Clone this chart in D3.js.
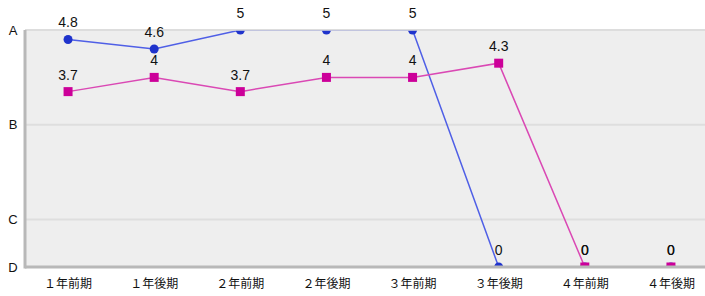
<!DOCTYPE html>
<html>
<head>
<meta charset="utf-8">
<script src="https://cdn.jsdelivr.net/npm/d3@7"></script>
<style>
  body { margin: 0; background: #fff; }
  svg text { font-family: "Liberation Sans", Arial, sans-serif; fill: #111; }
  svg text.xlab { font-family: "Noto Sans CJK JP", "Noto Sans", sans-serif; }
</style>
</head>
<body>
<svg id="chart" width="705" height="296"></svg>
<script>
// categories and values
const terms = ["１年前期", "１年後期", "２年前期", "２年後期", "３年前期", "３年後期", "４年前期", "４年後期"];
const seriesA = [4.8, 4.6, 5, 5, 5, 0, 0, 0];
const seriesB = [3.7, 4, 3.7, 4, 4, 4.3, 0, 0];
const gradeTicks = [5, 3, 1, 0];
const gradeLabels = ["A", "B", "C", "D"];

const svg = d3.select("#chart"),
      margin = { top: 30, right: -9, bottom: 29, left: 25 },
      width = 705 - margin.left - margin.right,
      height = 296 - margin.top - margin.bottom;

const x = d3.scalePoint()
    .domain(terms)
    .range([0, width])
    .padding(0.5);

const y = d3.scaleLinear()
    .domain([0, 5])
    .range([height, 0]);

const chart = svg.append("g")
    .attr("transform", `translate(${margin.left},${margin.top})`);

svg.append("defs").append("clipPath")
    .attr("id", "plot-clip")
  .append("rect")
    .attr("width", width)
    .attr("height", height);

// plot background
chart.append("rect")
    .attr("width", width)
    .attr("height", height)
    .attr("fill", "#eeeeee");

// grid lines
chart.selectAll(".grid")
    .data(gradeTicks.filter(d => d > 0))
    .enter()
    .append("line")
    .attr("x1", 0)
    .attr("x2", width)
    .attr("y1", d => y(d))
    .attr("y2", d => y(d))
    .attr("stroke", "#dedede")
    .attr("stroke-width", 2);

// y labels
chart.selectAll(".ylab")
    .data(gradeTicks)
    .enter()
    .append("text")
    .attr("x", -12)
    .attr("y", d => y(d))
    .attr("dy", "0.35em")
    .attr("text-anchor", "middle")
    .style("font-size", "13px")
    .text((d, i) => gradeLabels[i]);

// x labels
chart.selectAll(".xlab")
    .data(terms)
    .enter()
    .append("text")
    .attr("class", "xlab")
    .attr("x", d => x(d))
    .attr("y", height + 21)
    .attr("text-anchor", "middle")
    .style("font-size", "12px")
    .text(d => d);

const series = [
    { values: seriesA, line: "#4f5fe6", mark: "#1f33cc", shape: "circle" },
    { values: seriesB, line: "#da48b4", mark: "#cc0099", shape: "square" }
];

const line = d3.line()
    .x((d, i) => x(terms[i]))
    .y(d => y(d));

const plot = chart.append("g").attr("clip-path", "url(#plot-clip)");

series.forEach(s => {
    plot.append("path")
        .datum(s.values)
        .attr("fill", "none")
        .attr("stroke", s.line)
        .attr("stroke-width", 1.5)
        .attr("d", line);

    if (s.shape === "circle") {
        plot.selectAll(null)
            .data(s.values)
            .enter()
            .append("circle")
            .attr("cx", (d, i) => x(terms[i]))
            .attr("cy", d => y(d))
            .attr("r", 4.5)
            .attr("fill", s.mark);
    } else {
        plot.selectAll(null)
            .data(s.values)
            .enter()
            .append("rect")
            .attr("x", (d, i) => x(terms[i]) - 4.5)
            .attr("y", d => y(d) - 4.5)
            .attr("width", 9)
            .attr("height", 9)
            .attr("fill", s.mark);
    }
});

// axis lines
chart.append("line")
    .attr("x1", 0).attr("x2", width)
    .attr("y1", 0).attr("y2", 0)
    .attr("stroke", "#dcdcdc")
    .attr("stroke-width", 1.5);
chart.append("line")
    .attr("x1", 0).attr("x2", 0)
    .attr("y1", 0).attr("y2", height + 1.5)
    .attr("stroke", "#b8b8b8")
    .attr("stroke-width", 3);
chart.append("line")
    .attr("x1", 0).attr("x2", width)
    .attr("y1", height).attr("y2", height)
    .attr("stroke", "#b8b8b8")
    .attr("stroke-width", 3);

// value labels
series.forEach(s => {
    chart.selectAll(null)
        .data(s.values)
        .enter()
        .append("text")
        .attr("x", (d, i) => x(terms[i]))
        .attr("y", d => y(d) - 12)
        .attr("text-anchor", "middle")
        .style("font-size", "14px")
        .text(d => d);
});
</script>
</body>
</html>
